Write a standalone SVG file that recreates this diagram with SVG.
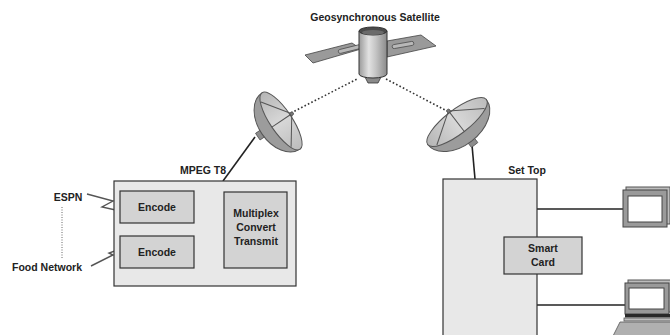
<svg xmlns="http://www.w3.org/2000/svg" width="670" height="335" viewBox="0 0 670 335">
  <defs>
    <linearGradient id="bodyGrad" x1="0" y1="0" x2="1" y2="0">
      <stop offset="0" stop-color="#9a9a9a"/>
      <stop offset="0.35" stop-color="#e2e2e2"/>
      <stop offset="0.6" stop-color="#c4c4c4"/>
      <stop offset="1" stop-color="#8a8a8a"/>
    </linearGradient>
    <linearGradient id="dishFace" x1="0" y1="0" x2="1" y2="0">
      <stop offset="0" stop-color="#b5b5b5"/>
      <stop offset="0.5" stop-color="#d8d8d8"/>
      <stop offset="1" stop-color="#bcbcbc"/>
    </linearGradient>
    <style>
      .lbl { font-family: "Liberation Sans", Arial, sans-serif; font-weight: bold; font-size: 10.5px; fill: #222; }
      .box { stroke: #333; stroke-width: 1.2; }
      .outer { fill: #e8e8e8; }
      .inner { fill: #d3d3d3; }
      .wire { stroke: #222; stroke-width: 1.6; fill: none; }
      .dots { stroke: #333; stroke-width: 1.6; stroke-dasharray: 1.6 2.2; fill: none; }
      .thin { stroke: #555; stroke-width: 1.4; fill: none; }
      .shell { fill: #9c9c9c; stroke: #555; stroke-width: 1; }
      .rim { fill: url(#dishFace); stroke: #555; stroke-width: 1; }
      .strut { stroke: #555; stroke-width: 1; }
      .panel { fill: #9a9a9a; stroke: #444; stroke-width: 0.8; }
      .frame { fill: #9a9a9a; stroke: #444; stroke-width: 1; }
      .back { fill: #bdbdbd; stroke: #555; stroke-width: 1; }
      .screen { fill: #fff; stroke: #444; stroke-width: 1; }
    </style>
  </defs>

  <!-- connectors -->
  <g id="connectors">
    <line class="dots" x1="291" y1="113" x2="357" y2="79"/>
    <line class="dots" x1="386" y1="79" x2="447" y2="111"/>
    <line class="wire" x1="255" y1="137" x2="223" y2="181"/>
    <line class="wire" x1="472" y1="145" x2="475" y2="179"/>
    <line class="wire" x1="194" y1="207" x2="224" y2="207"/>
    <line class="wire" x1="194" y1="250" x2="224" y2="250"/>
    <line class="wire" x1="537" y1="209" x2="624" y2="209"/>
    <line class="wire" x1="537" y1="305" x2="625" y2="305"/>
    <polyline class="thin" points="87,194 113,201 102,207 120,211"/>
    <polyline class="thin" points="91,266 113,255 109,253 120,249"/>
    <line x1="62" y1="207" x2="62" y2="258" stroke="#666" stroke-width="1" stroke-dasharray="1 1.5"/>
  </g>

  <!-- satellite -->
  <g id="satellite">
    <text class="lbl" x="375" y="21" text-anchor="middle">Geosynchronous Satellite</text>
    <polygon class="panel" points="305,55 352,43 361,49 313,63"/>
    <rect x="338" y="47" width="24" height="4" rx="2" fill="#b8b8b8" stroke="#444" stroke-width="0.7" transform="rotate(-14 350 49)"/>
    <polygon class="panel" points="387,41 421,35 436,46 387,57"/>
    <rect x="392" y="43" width="22" height="4" rx="2" fill="#b8b8b8" stroke="#444" stroke-width="0.7" transform="rotate(-10 403 45)"/>
    <path d="M364,75 L368,83 L378,83 L382,75 Z" fill="#8a8a8a" stroke="#333" stroke-width="0.8"/>
    <path d="M359,31 L359,74 A14,4 0 0 0 387,74 L387,31 Z" fill="url(#bodyGrad)" stroke="#333" stroke-width="1"/>
    <ellipse cx="373" cy="31" rx="14" ry="4" fill="#4a4a4a" stroke="#333" stroke-width="1"/>
    <ellipse cx="373" cy="32.5" rx="11" ry="2.4" fill="#6a6a6a"/>
  </g>

  <!-- uplink dish -->
  <g id="uplink-dish" transform="translate(281 121) rotate(56)">
    <rect x="-4" y="20" width="8" height="8" fill="#8c8c8c" stroke="#555" stroke-width="0.8"/>
    <path class="shell" d="M-34,0 A34,23 0 0 0 34,0 Z"/>
    <ellipse class="rim" cx="0" cy="0" rx="34" ry="11"/>
    <line class="strut" x1="-27" y1="6" x2="0" y2="-13"/>
    <line class="strut" x1="27" y1="6" x2="0" y2="-13"/>
    <line class="strut" x1="0" y1="11" x2="0" y2="-13" stroke-width="2"/>
    <circle cx="0" cy="-13" r="1.8" fill="#777" stroke="#444" stroke-width="0.6"/>
  </g>

  <!-- downlink dish -->
  <g id="downlink-dish" transform="translate(457 122) rotate(-37.5)">
    <rect x="-4" y="21" width="8" height="8" fill="#8c8c8c" stroke="#555" stroke-width="0.8"/>
    <path class="shell" d="M-37,0 A37,24 0 0 0 37,0 Z"/>
    <ellipse class="rim" cx="0" cy="0" rx="37" ry="12"/>
    <line class="strut" x1="-30" y1="6" x2="0" y2="-14"/>
    <line class="strut" x1="30" y1="6" x2="0" y2="-14"/>
    <line class="strut" x1="0" y1="12" x2="0" y2="-14" stroke-width="2"/>
    <circle cx="0" cy="-14" r="1.8" fill="#777" stroke="#444" stroke-width="0.6"/>
  </g>

  <!-- sources -->
  <g id="espn">
    <text class="lbl" x="68" y="201" text-anchor="middle">ESPN</text>
  </g>
  <g id="food-network">
    <text class="lbl" x="47" y="271" text-anchor="middle">Food Network</text>
  </g>

  <!-- head end -->
  <g id="mpeg-t8">
    <rect class="box outer" x="114" y="181" width="182" height="105"/>
    <text class="lbl" x="203" y="174" text-anchor="middle">MPEG T8</text>
  </g>
  <g id="encode-1">
    <rect class="box inner" x="120" y="191" width="74" height="32"/>
    <text class="lbl" x="157" y="211" text-anchor="middle">Encode</text>
  </g>
  <g id="encode-2">
    <rect class="box inner" x="120" y="236" width="74" height="32"/>
    <text class="lbl" x="157" y="256" text-anchor="middle">Encode</text>
  </g>
  <g id="multiplex">
    <rect class="box inner" x="224" y="192" width="63" height="76"/>
    <text class="lbl" x="256" y="217" text-anchor="middle">Multiplex</text>
    <text class="lbl" x="256" y="231" text-anchor="middle">Convert</text>
    <text class="lbl" x="256" y="245" text-anchor="middle">Transmit</text>
  </g>

  <!-- receiver -->
  <g id="set-top">
    <rect class="box outer" x="443" y="179" width="94" height="160"/>
    <text class="lbl" x="527" y="174" text-anchor="middle">Set Top</text>
  </g>
  <g id="smart-card">
    <rect class="box inner" x="504" y="237" width="78" height="37"/>
    <text class="lbl" x="543" y="252" text-anchor="middle">Smart</text>
    <text class="lbl" x="543" y="266" text-anchor="middle">Card</text>
  </g>

  <!-- displays -->
  <g id="monitor">
    <rect class="back" x="626" y="187" width="44" height="37"/>
    <rect class="frame" x="623" y="190" width="44" height="37"/>
    <rect class="screen" x="628" y="196" width="34" height="26"/>
  </g>
  <g id="computer">
    <rect class="back" x="628" y="280" width="44" height="32"/>
    <rect class="frame" x="625" y="283" width="44" height="31"/>
    <rect class="screen" x="629" y="288" width="35" height="21"/>
    <rect x="625" y="314" width="46" height="3.5" fill="#2a2a2a"/>
    <rect x="624" y="318" width="47" height="3" fill="#bdbdbd" stroke="#555" stroke-width="0.8"/>
    <polygon points="620,322 671,322 671,336 613,336" fill="#b0b0b0" stroke="#555" stroke-width="0.8"/>
  </g>
</svg>
